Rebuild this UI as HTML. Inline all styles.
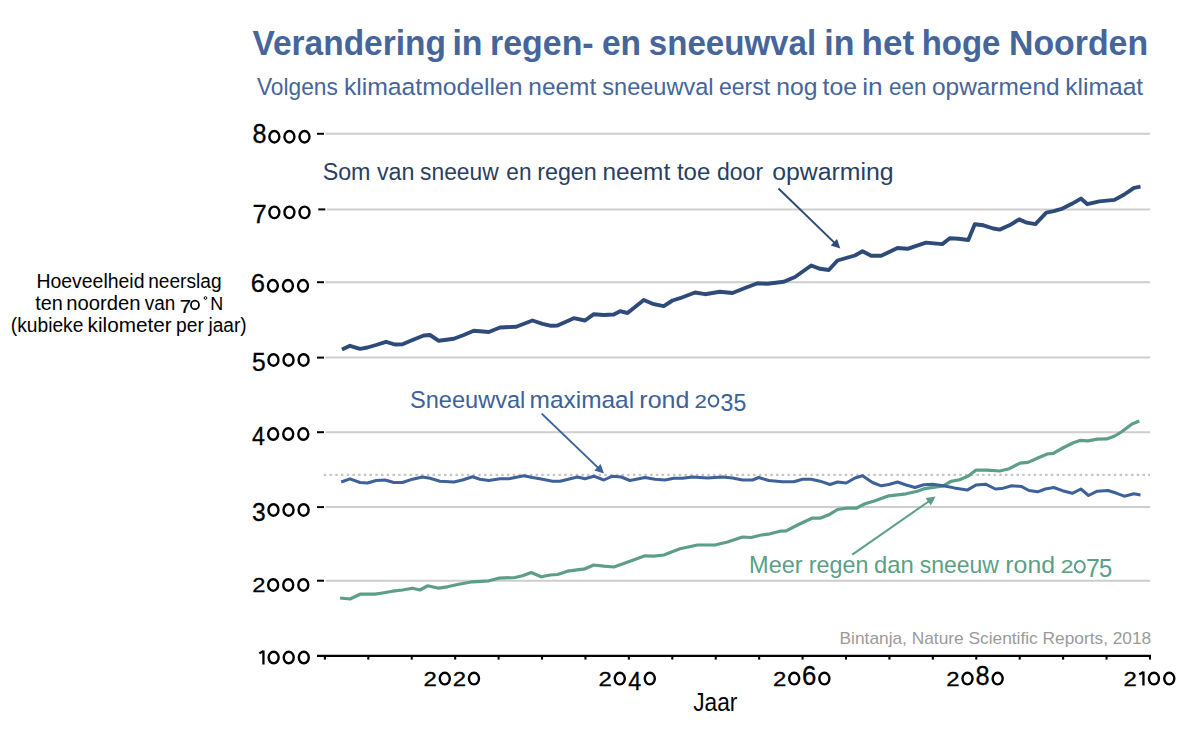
<!DOCTYPE html>
<html><head><meta charset="utf-8"><style>
html,body{margin:0;padding:0;background:#fff;}
body{width:1200px;height:730px;overflow:hidden;}
svg{display:block;font-family:"Liberation Sans",sans-serif;}
</style></head><body>
<svg width="1200" height="730" viewBox="0 0 1200 730">
<rect width="1200" height="730" fill="#fff"/>
<line x1="325.5" y1="580.70" x2="1150" y2="580.70" stroke="#cdcdcd" stroke-width="2"/>
<line x1="317" y1="580.70" x2="324" y2="580.70" stroke="#000" stroke-width="2"/>
<line x1="325.5" y1="507.10" x2="1150" y2="507.10" stroke="#cdcdcd" stroke-width="2"/>
<line x1="317" y1="507.10" x2="324" y2="507.10" stroke="#000" stroke-width="2"/>
<line x1="325.5" y1="432.20" x2="1150" y2="432.20" stroke="#cdcdcd" stroke-width="2"/>
<line x1="317" y1="432.20" x2="324" y2="432.20" stroke="#000" stroke-width="2"/>
<line x1="325.5" y1="357.60" x2="1150" y2="357.60" stroke="#cdcdcd" stroke-width="2"/>
<line x1="317" y1="357.60" x2="324" y2="357.60" stroke="#000" stroke-width="2"/>
<line x1="325.5" y1="282.20" x2="1150" y2="282.20" stroke="#cdcdcd" stroke-width="2"/>
<line x1="317" y1="282.20" x2="324" y2="282.20" stroke="#000" stroke-width="2"/>
<line x1="326.8" y1="209.40" x2="1150" y2="209.40" stroke="#cdcdcd" stroke-width="2"/>
<line x1="318.3" y1="209.40" x2="325.3" y2="209.40" stroke="#000" stroke-width="2"/>
<line x1="325.5" y1="133.80" x2="1150" y2="133.80" stroke="#cdcdcd" stroke-width="2"/>
<line x1="317" y1="133.80" x2="324" y2="133.80" stroke="#000" stroke-width="2"/>
<line x1="323.8" y1="474.8" x2="1150" y2="474.8" stroke="#c4c4c4" stroke-width="2.3" stroke-dasharray="2.4 3.325"/>
<line x1="317" y1="655.9" x2="1151" y2="655.9" stroke="#000" stroke-width="2.3"/>
<line x1="324.90" y1="656" x2="324.90" y2="659.6" stroke="#000" stroke-width="2.1"/>
<line x1="368.32" y1="656" x2="368.32" y2="659.6" stroke="#000" stroke-width="2.1"/>
<line x1="411.75" y1="656" x2="411.75" y2="659.6" stroke="#000" stroke-width="2.1"/>
<line x1="455.17" y1="656" x2="455.17" y2="659.6" stroke="#000" stroke-width="2.1"/>
<line x1="498.60" y1="656" x2="498.60" y2="659.6" stroke="#000" stroke-width="2.1"/>
<line x1="542.02" y1="656" x2="542.02" y2="659.6" stroke="#000" stroke-width="2.1"/>
<line x1="585.45" y1="656" x2="585.45" y2="659.6" stroke="#000" stroke-width="2.1"/>
<line x1="628.88" y1="656" x2="628.88" y2="659.6" stroke="#000" stroke-width="2.1"/>
<line x1="672.30" y1="656" x2="672.30" y2="659.6" stroke="#000" stroke-width="2.1"/>
<line x1="715.73" y1="656" x2="715.73" y2="659.6" stroke="#000" stroke-width="2.1"/>
<line x1="759.15" y1="656" x2="759.15" y2="659.6" stroke="#000" stroke-width="2.1"/>
<line x1="802.58" y1="656" x2="802.58" y2="659.6" stroke="#000" stroke-width="2.1"/>
<line x1="846.00" y1="656" x2="846.00" y2="659.6" stroke="#000" stroke-width="2.1"/>
<line x1="889.42" y1="656" x2="889.42" y2="659.6" stroke="#000" stroke-width="2.1"/>
<line x1="932.85" y1="656" x2="932.85" y2="659.6" stroke="#000" stroke-width="2.1"/>
<line x1="976.27" y1="656" x2="976.27" y2="659.6" stroke="#000" stroke-width="2.1"/>
<line x1="1019.70" y1="656" x2="1019.70" y2="659.6" stroke="#000" stroke-width="2.1"/>
<line x1="1063.12" y1="656" x2="1063.12" y2="659.6" stroke="#000" stroke-width="2.1"/>
<line x1="1106.55" y1="656" x2="1106.55" y2="659.6" stroke="#000" stroke-width="2.1"/>
<line x1="1149.97" y1="656" x2="1149.97" y2="659.6" stroke="#000" stroke-width="2.1"/>
<circle cx="205.5" cy="298" r="1.35" fill="none" stroke="#000" stroke-width="1"/>
<polyline points="340.0,598.0 350.0,599.0 360.0,594.2 375.0,594.2 382.5,593.0 392.5,591.2 402.5,590.0 412.5,588.2 420.0,590.0 427.5,585.8 438.8,588.2 447.5,586.8 457.5,584.5 472.5,581.8 488.8,580.8 498.8,578.2 515.0,577.5 522.5,575.8 531.2,572.5 541.2,576.8 550.0,575.0 557.5,574.5 567.5,571.2 585.0,568.8 593.8,565.0 603.8,566.2 613.8,567.0 630.0,561.2 645.0,555.8 653.8,556.2 663.8,555.0 680.0,548.8 697.5,545.0 715.0,545.0 727.5,542.0 742.5,537.0 751.2,537.5 761.2,535.0 770.0,533.8 780.0,531.2 786.2,530.8 797.5,525.0 812.5,518.0 820.0,518.2 830.0,514.2 837.5,509.5 847.5,508.0 856.2,508.2 865.0,503.8 875.0,500.8 888.8,495.8 906.2,493.8 917.3,491.2 924.9,488.6 943.3,485.8 950.9,481.4 959.6,479.7 968.3,476.0 975.8,470.2 986.7,470.2 999.7,471.0 1009.3,468.7 1020.0,463.1 1028.0,462.4 1037.3,458.3 1047.3,454.0 1053.3,453.3 1062.7,448.0 1073.3,442.7 1080.0,440.4 1088.0,440.9 1097.3,439.1 1106.7,438.9 1114.7,436.0 1121.3,432.0 1132.0,424.0 1139.3,421.0" fill="none" stroke="#5c9f86" stroke-width="3.2" stroke-linejoin="round" stroke-linecap="butt"/>
<polyline points="341.2,482.0 350.0,478.8 360.0,482.5 367.5,483.0 376.2,480.5 385.0,480.0 393.8,482.5 402.5,482.5 412.5,479.2 422.5,477.0 430.0,478.2 440.0,481.2 453.8,482.0 462.5,480.0 472.5,476.8 480.0,479.2 488.8,480.5 500.0,478.8 508.8,478.8 523.8,475.8 532.5,477.5 542.5,479.2 552.5,481.2 560.0,481.2 577.5,477.0 585.0,478.8 593.8,476.2 603.8,480.0 612.5,476.2 621.2,477.0 630.0,480.5 645.0,477.5 655.0,479.2 665.0,480.0 673.8,478.2 682.5,478.2 692.5,477.0 707.5,478.0 722.5,477.0 732.5,478.0 742.5,480.0 752.5,480.0 758.8,477.5 768.8,480.5 782.5,481.8 793.8,481.8 802.5,479.2 811.2,479.2 820.0,481.2 830.0,484.5 837.5,482.0 846.2,483.0 855.0,478.0 862.5,475.8 872.5,482.5 881.2,485.8 888.8,484.5 897.5,482.0 906.2,485.0 915.0,487.5 923.8,484.7 932.5,484.2 943.3,485.8 954.2,487.9 967.2,490.1 975.8,485.1 985.6,484.2 995.3,489.0 1001.8,488.6 1011.6,485.8 1021.3,486.4 1028.9,490.5 1037.6,491.8 1045.2,489.0 1053.8,487.5 1062.5,490.7 1072.3,493.3 1080.9,489.0 1088.5,495.5 1097.2,491.2 1108.0,490.5 1116.7,493.3 1124.3,496.2 1134.0,493.8 1140.5,494.9" fill="none" stroke="#3d6199" stroke-width="3.0" stroke-linejoin="round" stroke-linecap="butt"/>
<polyline points="342.0,349.5 350.0,345.8 360.0,348.8 367.5,347.5 376.0,345.0 386.0,341.8 395.0,344.5 402.5,344.2 412.5,340.0 423.8,335.5 430.0,335.0 438.8,340.8 453.8,338.8 463.8,335.0 473.8,330.8 488.8,332.0 500.0,327.5 516.2,326.8 532.5,320.5 542.5,323.8 551.2,325.8 557.5,325.5 573.8,318.2 585.0,320.5 593.8,314.2 603.8,315.0 613.8,314.5 620.0,311.2 627.5,313.0 643.8,300.0 653.8,304.2 663.8,306.2 672.5,300.5 680.0,298.2 695.0,292.5 705.0,294.2 720.0,291.8 732.5,293.0 745.0,288.0 757.5,283.2 767.5,283.8 783.8,281.8 795.0,277.0 811.2,265.5 820.0,268.8 828.8,270.0 837.5,260.5 855.0,255.5 862.5,251.2 871.2,255.8 881.2,255.8 897.5,248.0 907.5,248.8 916.3,245.8 926.0,242.6 942.3,244.1 949.8,238.3 958.5,238.7 968.3,240.0 974.8,224.2 983.4,225.3 993.2,228.5 999.7,229.6 1009.4,225.3 1019.2,219.4 1026.8,222.7 1035.4,224.2 1046.3,212.7 1053.8,211.2 1062.5,208.6 1072.3,203.6 1080.9,198.6 1087.4,204.2 1099.3,201.4 1114.5,199.9 1124.3,194.5 1134.0,187.8 1140.5,186.7" fill="none" stroke="#2d4a79" stroke-width="3.9" stroke-linejoin="round" stroke-linecap="butt"/>
<line x1="778.5" y1="188.5" x2="834.6" y2="242.9" stroke="#2d4a79" stroke-width="2"/><polygon points="840.3,248.5 830.7,245.5 837.0,239.0" fill="#2d4a79"/>
<line x1="541.7" y1="413.6" x2="598.2" y2="467.9" stroke="#3d6199" stroke-width="2"/><polygon points="604.0,473.4 594.4,470.4 600.6,463.9" fill="#3d6199"/>
<line x1="852.3" y1="554.6" x2="929.0" y2="501.2" stroke="#5c9f86" stroke-width="2"/><polygon points="935.6,496.6 930.8,505.4 925.6,498.0" fill="#5c9f86"/>
<text x="322.64" y="179.50" font-size="24.7" fill="#2a3e64" textLength="47.89" lengthAdjust="spacingAndGlyphs">Som</text>
<text x="376.92" y="179.50" font-size="24.7" fill="#2a3e64" textLength="37.59" lengthAdjust="spacingAndGlyphs">van</text>
<text x="420.07" y="179.50" font-size="24.7" fill="#2a3e64" textLength="78.58" lengthAdjust="spacingAndGlyphs">sneeuw</text>
<text x="506.34" y="179.50" font-size="24.7" fill="#2a3e64" textLength="25.13" lengthAdjust="spacingAndGlyphs">en</text>
<text x="537.15" y="179.50" font-size="24.7" fill="#2a3e64" textLength="59.66" lengthAdjust="spacingAndGlyphs">regen</text>
<text x="602.38" y="179.50" font-size="24.7" fill="#2a3e64" textLength="67.80" lengthAdjust="spacingAndGlyphs">neemt</text>
<text x="676.94" y="179.50" font-size="24.7" fill="#2a3e64" textLength="33.43" lengthAdjust="spacingAndGlyphs">toe</text>
<text x="717.03" y="179.50" font-size="24.7" fill="#2a3e64" textLength="46.05" lengthAdjust="spacingAndGlyphs">door</text>
<text x="772.26" y="179.50" font-size="24.7" fill="#2a3e64" textLength="121.34" lengthAdjust="spacingAndGlyphs">opwarming</text>
<text x="252.47" y="54.90" font-size="35.18" font-weight="bold" fill="#46659b" textLength="193.49" lengthAdjust="spacingAndGlyphs">Verandering</text>
<text x="452.38" y="54.90" font-size="35.18" font-weight="bold" fill="#46659b" textLength="30.12" lengthAdjust="spacingAndGlyphs">in</text>
<text x="490.07" y="54.90" font-size="35.18" font-weight="bold" fill="#46659b" textLength="103.59" lengthAdjust="spacingAndGlyphs">regen-</text>
<text x="601.99" y="54.90" font-size="35.18" font-weight="bold" fill="#46659b" textLength="39.09" lengthAdjust="spacingAndGlyphs">en</text>
<text x="648.84" y="54.90" font-size="35.18" font-weight="bold" fill="#46659b" textLength="167.25" lengthAdjust="spacingAndGlyphs">sneeuwval</text>
<text x="824.23" y="54.90" font-size="35.18" font-weight="bold" fill="#46659b" textLength="30.18" lengthAdjust="spacingAndGlyphs">in</text>
<text x="861.55" y="54.90" font-size="35.18" font-weight="bold" fill="#46659b" textLength="52.58" lengthAdjust="spacingAndGlyphs">het</text>
<text x="921.70" y="54.90" font-size="35.18" font-weight="bold" fill="#46659b" textLength="78.73" lengthAdjust="spacingAndGlyphs">hoge</text>
<text x="1009.04" y="54.90" font-size="35.18" font-weight="bold" fill="#46659b" textLength="139.06" lengthAdjust="spacingAndGlyphs">Noorden</text>
<text x="256.90" y="95.30" font-size="24.13" fill="#46659b" textLength="80.91" lengthAdjust="spacingAndGlyphs">Volgens</text>
<text x="343.93" y="95.30" font-size="24.13" fill="#46659b" textLength="178.67" lengthAdjust="spacingAndGlyphs">klimaatmodellen</text>
<text x="528.38" y="95.30" font-size="24.13" fill="#46659b" textLength="67.80" lengthAdjust="spacingAndGlyphs">neemt</text>
<text x="602.34" y="95.30" font-size="24.13" fill="#46659b" textLength="111.23" lengthAdjust="spacingAndGlyphs">sneeuwval</text>
<text x="719.02" y="95.30" font-size="24.13" fill="#46659b" textLength="51.15" lengthAdjust="spacingAndGlyphs">eerst</text>
<text x="776.36" y="95.30" font-size="24.13" fill="#46659b" textLength="41.23" lengthAdjust="spacingAndGlyphs">nog</text>
<text x="822.62" y="95.30" font-size="24.13" fill="#46659b" textLength="34.48" lengthAdjust="spacingAndGlyphs">toe</text>
<text x="862.24" y="95.30" font-size="24.13" fill="#46659b" textLength="20.47" lengthAdjust="spacingAndGlyphs">in</text>
<text x="889.05" y="95.30" font-size="24.13" fill="#46659b" textLength="37.41" lengthAdjust="spacingAndGlyphs">een</text>
<text x="931.97" y="95.30" font-size="24.13" fill="#46659b" textLength="127.60" lengthAdjust="spacingAndGlyphs">opwarmend</text>
<text x="1065.34" y="95.30" font-size="24.13" fill="#46659b" textLength="77.84" lengthAdjust="spacingAndGlyphs">klimaat</text>
<text x="409.93" y="407.50" font-size="24.27" fill="#3d6199" textLength="115.40" lengthAdjust="spacingAndGlyphs">Sneeuwval</text>
<text x="529.63" y="407.50" font-size="24.27" fill="#3d6199" textLength="104.51" lengthAdjust="spacingAndGlyphs">maximaal</text>
<text x="639.34" y="407.50" font-size="24.27" fill="#3d6199" textLength="49.97" lengthAdjust="spacingAndGlyphs">rond</text>
<text x="749.07" y="573.40" font-size="23.4" fill="#5c9f86" textLength="53.62" lengthAdjust="spacingAndGlyphs">Meer</text>
<text x="808.75" y="573.40" font-size="23.4" fill="#5c9f86" textLength="59.77" lengthAdjust="spacingAndGlyphs">regen</text>
<text x="874.00" y="573.40" font-size="23.4" fill="#5c9f86" textLength="39.85" lengthAdjust="spacingAndGlyphs">dan</text>
<text x="919.66" y="573.40" font-size="23.4" fill="#5c9f86" textLength="79.28" lengthAdjust="spacingAndGlyphs">sneeuw</text>
<text x="1005.35" y="573.40" font-size="23.4" fill="#5c9f86" textLength="49.75" lengthAdjust="spacingAndGlyphs">rond</text>
<text x="839.58" y="643.80" font-size="17.15" fill="#9a9a9a" textLength="311.67" lengthAdjust="spacingAndGlyphs">Bintanja, Nature Scientific Reports, 2018</text>
<text x="36.41" y="288.30" font-size="19.33" fill="#000" textLength="108.05" lengthAdjust="spacingAndGlyphs">Hoeveelheid</text>
<text x="148.23" y="288.30" font-size="19.33" fill="#000" textLength="73.30" lengthAdjust="spacingAndGlyphs">neerslag</text>
<text x="35.20" y="310.00" font-size="19.33" fill="#000" textLength="27.59" lengthAdjust="spacingAndGlyphs">ten</text>
<text x="66.16" y="310.00" font-size="19.33" fill="#000" textLength="74.26" lengthAdjust="spacingAndGlyphs">noorden</text>
<text x="144.74" y="310.00" font-size="19.33" fill="#000" textLength="30.49" lengthAdjust="spacingAndGlyphs">van</text>
<text x="210.23" y="310.00" font-size="18.9" fill="#000" textLength="12.93" lengthAdjust="spacingAndGlyphs">N</text>
<text x="10.81" y="331.60" font-size="19.33" fill="#000" textLength="72.54" lengthAdjust="spacingAndGlyphs">(kubieke</text>
<text x="87.60" y="331.60" font-size="19.33" fill="#000" textLength="84.14" lengthAdjust="spacingAndGlyphs">kilometer</text>
<text x="176.06" y="331.60" font-size="19.33" fill="#000" textLength="27.76" lengthAdjust="spacingAndGlyphs">per</text>
<text x="208.47" y="331.60" font-size="19.33" fill="#000" textLength="38.22" lengthAdjust="spacingAndGlyphs">jaar)</text>
<text x="693.14" y="710.50" font-size="25.44" fill="#000" textLength="44.23" lengthAdjust="spacingAndGlyphs">Jaar</text>
<path d="M263.44,650.60 L263.44,664.50 M263.44,650.90 L259.27,653.38" stroke="#000" stroke-width="2.29" fill="none"/><ellipse cx="273.67" cy="657.55" rx="4.99" ry="5.75" fill="none" stroke="#000" stroke-width="2.40"/><ellipse cx="288.74" cy="657.55" rx="4.99" ry="5.75" fill="none" stroke="#000" stroke-width="2.40"/><ellipse cx="303.81" cy="657.55" rx="4.99" ry="5.75" fill="none" stroke="#000" stroke-width="2.40"/>
<text transform="translate(252.25,591.90) scale(0.2380,0.1991)" font-size="100" fill="#000" stroke="#000" stroke-width="1.373">2</text><ellipse cx="273.17" cy="584.95" rx="4.99" ry="5.75" fill="none" stroke="#000" stroke-width="2.40"/><ellipse cx="288.24" cy="584.95" rx="4.99" ry="5.75" fill="none" stroke="#000" stroke-width="2.40"/><ellipse cx="303.31" cy="584.95" rx="4.99" ry="5.75" fill="none" stroke="#000" stroke-width="2.40"/>
<text transform="translate(251.97,520.82) scale(0.2463,0.2552)" font-size="100" fill="#000" stroke="#000" stroke-width="1.196">3</text><ellipse cx="273.47" cy="509.95" rx="4.99" ry="5.75" fill="none" stroke="#000" stroke-width="2.40"/><ellipse cx="288.54" cy="509.95" rx="4.99" ry="5.75" fill="none" stroke="#000" stroke-width="2.40"/><ellipse cx="303.61" cy="509.95" rx="4.99" ry="5.75" fill="none" stroke="#000" stroke-width="2.40"/>
<text transform="translate(252.08,445.17) scale(0.2317,0.2626)" font-size="100" fill="#000" stroke="#000" stroke-width="1.214">4</text><ellipse cx="273.17" cy="434.05" rx="4.99" ry="5.75" fill="none" stroke="#000" stroke-width="2.40"/><ellipse cx="288.24" cy="434.05" rx="4.99" ry="5.75" fill="none" stroke="#000" stroke-width="2.40"/><ellipse cx="303.31" cy="434.05" rx="4.99" ry="5.75" fill="none" stroke="#000" stroke-width="2.40"/>
<text transform="translate(251.92,370.82) scale(0.2463,0.2590)" font-size="100" fill="#000" stroke="#000" stroke-width="1.188">5</text><ellipse cx="273.47" cy="359.95" rx="4.99" ry="5.75" fill="none" stroke="#000" stroke-width="2.40"/><ellipse cx="288.54" cy="359.95" rx="4.99" ry="5.75" fill="none" stroke="#000" stroke-width="2.40"/><ellipse cx="303.61" cy="359.95" rx="4.99" ry="5.75" fill="none" stroke="#000" stroke-width="2.40"/>
<text transform="translate(250.87,292.49) scale(0.2561,0.2670)" font-size="100" fill="#000" stroke="#000" stroke-width="1.147">6</text><ellipse cx="272.87" cy="285.80" rx="4.99" ry="5.75" fill="none" stroke="#000" stroke-width="2.40"/><ellipse cx="287.94" cy="285.80" rx="4.99" ry="5.75" fill="none" stroke="#000" stroke-width="2.40"/><ellipse cx="303.01" cy="285.80" rx="4.99" ry="5.75" fill="none" stroke="#000" stroke-width="2.40"/>
<text transform="translate(252.49,223.47) scale(0.2568,0.2626)" font-size="100" fill="#000" stroke="#000" stroke-width="1.155">7</text><ellipse cx="274.37" cy="212.35" rx="4.99" ry="5.75" fill="none" stroke="#000" stroke-width="2.40"/><ellipse cx="289.44" cy="212.35" rx="4.99" ry="5.75" fill="none" stroke="#000" stroke-width="2.40"/><ellipse cx="304.51" cy="212.35" rx="4.99" ry="5.75" fill="none" stroke="#000" stroke-width="2.40"/>
<text transform="translate(252.58,143.44) scale(0.2518,0.2670)" font-size="100" fill="#000" stroke="#000" stroke-width="1.157">8</text><ellipse cx="274.37" cy="136.75" rx="4.99" ry="5.75" fill="none" stroke="#000" stroke-width="2.40"/><ellipse cx="289.44" cy="136.75" rx="4.99" ry="5.75" fill="none" stroke="#000" stroke-width="2.40"/><ellipse cx="304.51" cy="136.75" rx="4.99" ry="5.75" fill="none" stroke="#000" stroke-width="2.40"/>
<text transform="translate(423.54,685.60) scale(0.2397,0.2005)" font-size="100" fill="#000" stroke="#000" stroke-width="1.363">2</text><ellipse cx="444.79" cy="678.60" rx="5.03" ry="5.80" fill="none" stroke="#000" stroke-width="2.40"/><text transform="translate(452.72,685.60) scale(0.2397,0.2005)" font-size="100" fill="#000" stroke="#000" stroke-width="1.363">2</text><ellipse cx="473.97" cy="678.60" rx="5.03" ry="5.80" fill="none" stroke="#000" stroke-width="2.40"/>
<text transform="translate(598.52,685.60) scale(0.2397,0.2005)" font-size="100" fill="#000" stroke="#000" stroke-width="1.363">2</text><ellipse cx="619.78" cy="678.60" rx="5.03" ry="5.80" fill="none" stroke="#000" stroke-width="2.40"/><text transform="translate(628.37,689.80) scale(0.2334,0.2645)" font-size="100" fill="#000" stroke="#000" stroke-width="1.205">4</text><ellipse cx="649.80" cy="678.60" rx="5.03" ry="5.80" fill="none" stroke="#000" stroke-width="2.40"/>
<text transform="translate(772.95,685.60) scale(0.2397,0.2005)" font-size="100" fill="#000" stroke="#000" stroke-width="1.363">2</text><ellipse cx="794.21" cy="678.60" rx="5.03" ry="5.80" fill="none" stroke="#000" stroke-width="2.40"/><text transform="translate(802.03,685.34) scale(0.2579,0.2689)" font-size="100" fill="#000" stroke="#000" stroke-width="1.139">6</text><ellipse cx="824.37" cy="678.60" rx="5.03" ry="5.80" fill="none" stroke="#000" stroke-width="2.40"/>
<text transform="translate(946.25,685.60) scale(0.2397,0.2005)" font-size="100" fill="#000" stroke="#000" stroke-width="1.363">2</text><ellipse cx="967.50" cy="678.60" rx="5.03" ry="5.80" fill="none" stroke="#000" stroke-width="2.40"/><text transform="translate(975.53,685.34) scale(0.2536,0.2689)" font-size="100" fill="#000" stroke="#000" stroke-width="1.148">8</text><ellipse cx="997.66" cy="678.60" rx="5.03" ry="5.80" fill="none" stroke="#000" stroke-width="2.40"/>
<text transform="translate(1123.62,685.60) scale(0.2397,0.2005)" font-size="100" fill="#000" stroke="#000" stroke-width="1.363">2</text><path d="M1143.45,671.60 L1143.45,685.60 M1143.45,671.90 L1139.24,674.40" stroke="#000" stroke-width="2.31" fill="none"/><ellipse cx="1153.93" cy="678.60" rx="5.03" ry="5.80" fill="none" stroke="#000" stroke-width="2.40"/><ellipse cx="1169.29" cy="678.60" rx="5.03" ry="5.80" fill="none" stroke="#000" stroke-width="2.40"/>
<text transform="translate(694.38,407.50) scale(0.2226,0.1862)" font-size="100" fill="#3d6199" stroke="#3d6199" stroke-width="0.587">2</text><ellipse cx="713.52" cy="401.00" rx="4.81" ry="5.53" fill="none" stroke="#3d6199" stroke-width="1.95"/><text transform="translate(720.53,411.17) scale(0.2303,0.2387)" font-size="100" fill="#3d6199" stroke="#3d6199" stroke-width="0.512">3</text><text transform="translate(733.51,411.16) scale(0.2303,0.2422)" font-size="100" fill="#3d6199" stroke="#3d6199" stroke-width="0.508">5</text>
<text transform="translate(1060.85,573.40) scale(0.2294,0.1919)" font-size="100" fill="#5c9f86" stroke="#5c9f86" stroke-width="0.570">2</text><ellipse cx="1079.82" cy="566.70" rx="4.96" ry="5.70" fill="none" stroke="#5c9f86" stroke-width="2.01"/><text transform="translate(1085.91,577.42) scale(0.2476,0.2532)" font-size="100" fill="#5c9f86" stroke="#5c9f86" stroke-width="0.479">7</text><text transform="translate(1098.88,577.18) scale(0.2374,0.2497)" font-size="100" fill="#5c9f86" stroke="#5c9f86" stroke-width="0.493">5</text>
<text transform="translate(179.66,313.06) scale(0.2036,0.1927)" font-size="100" fill="#000" stroke="#000" stroke-width="1.009">7</text><ellipse cx="194.96" cy="304.90" rx="4.03" ry="4.22" fill="none" stroke="#000" stroke-width="1.75"/>
</svg>
</body></html>
